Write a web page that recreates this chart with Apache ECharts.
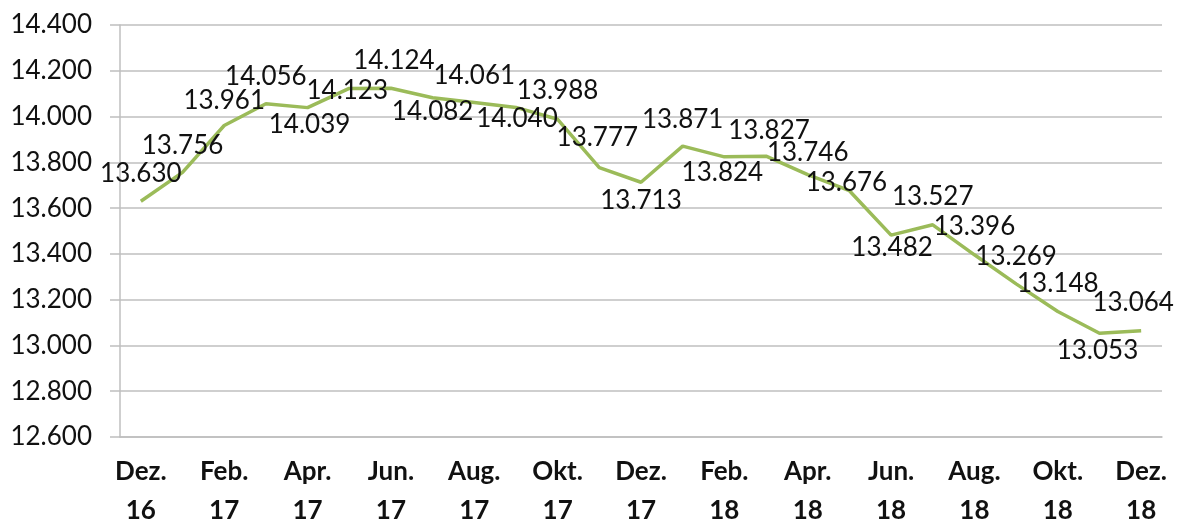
<!DOCTYPE html>
<html>
<head>
<meta charset="utf-8">
<script src="https://cdn.jsdelivr.net/npm/echarts@6/dist/echarts.min.js"></script>
<style>
  html, body { margin: 0; padding: 0; background: #fff; }
  #chart { width: 1181px; height: 526px; }
</style>
</head>
<body>
<div id="chart"></div>
<script>
const months = [
    'Dez.\n16', 'Jan.\n17', 'Feb.\n17', 'Mrz.\n17', 'Apr.\n17', 'Mai\n17', 'Jun.\n17',
    'Jul.\n17', 'Aug.\n17', 'Sep.\n17', 'Okt.\n17', 'Nov.\n17', 'Dez.\n17',
    'Jan.\n18', 'Feb.\n18', 'Mrz.\n18', 'Apr.\n18', 'Mai\n18', 'Jun.\n18',
    'Jul.\n18', 'Aug.\n18', 'Sep.\n18', 'Okt.\n18', 'Nov.\n18', 'Dez.\n18'
];
const values = [
    13630, 13756, 13961, 14056, 14039, 14123, 14124, 14082, 14061, 14040, 13988, 13777, 13713,
    13871, 13824, 13827, 13746, 13676, 13482, 13527, 13396, 13269, 13148, 13053, 13064
];
const yMin = 12600;
const yMax = 14400;
const yStep = 200;

// shift of each value label, relative to its point
const labelDy = [-28, -27, -25, -27, 17, 2, -28, 14, -27, 11, -29, -30, 18,
    -26, 16, -26, -22, -8, 12, -28, -28, -27, -28, 17, -28];
const labelDx = [0, 0, 0, 0, 2, -2, 3, 0, 0, 1, 0, -2, 0,
    0, -2, 3, 0, -3, 1, 0, 0, 0, 0, -2, -8];

function fmt(v){
    return String(v).replace(/\B(?=(\d{3})+(?!\d))/g, '.');
}

const e = echarts.init(document.getElementById('chart'));
const option = {
    animation: false,
    textStyle: { fontFamily: 'Lato' },
    grid: {
        left: 120,
        right: 19,
        top: 25,
        bottom: 89,
        outerBoundsMode: 'none'
    },
    xAxis: {
        type: 'category',
        data: months,
        boundaryGap: true,
        axisLine: { lineStyle: { color: '#bfbfbf', width: 1.5 } },
        axisTick: { interval: 1, length: 9, lineStyle: { color: '#bfbfbf', width: 1.5 } },
        axisLabel: {
            interval: 1,
            color: '#111',
            fontFamily: 'Lato',
            fontWeight: 'bold',
            fontSize: 26,
            lineHeight: 39,
            margin: 15
        }
    },
    yAxis: {
        type: 'value',
        min: yMin,
        max: yMax,
        interval: yStep,
        axisLine: { show: true, lineStyle: { color: '#bfbfbf', width: 1.5 } },
        axisTick: { show: true, length: 10, lineStyle: { color: '#bfbfbf', width: 1.5 } },
        splitLine: { lineStyle: { color: '#bfbfbf', width: 1.5 } },
        axisLabel: {
            color: '#111',
            fontFamily: 'Lato',
            fontSize: 26,
            margin: 28,
            formatter: fmt
        }
    },
    series: [
        {
            type: 'line',
            data: values.map((v, i) => ({
                value: v,
                label: { offset: [labelDx[i], labelDy[i]] }
            })),
            symbol: 'circle',
            symbolSize: 2,
            showSymbol: true,
            itemStyle: { color: 'rgba(0,0,0,0)' },
            lineStyle: { color: '#9bbb59', width: 3.5 },
            label: {
                show: true,
                position: 'inside',
                color: '#111',
                fontFamily: 'Lato',
                fontSize: 26,
                formatter: p => fmt(p.value)
            }
        }
    ]
};
e.setOption(option);
</script>
</body>
</html>
